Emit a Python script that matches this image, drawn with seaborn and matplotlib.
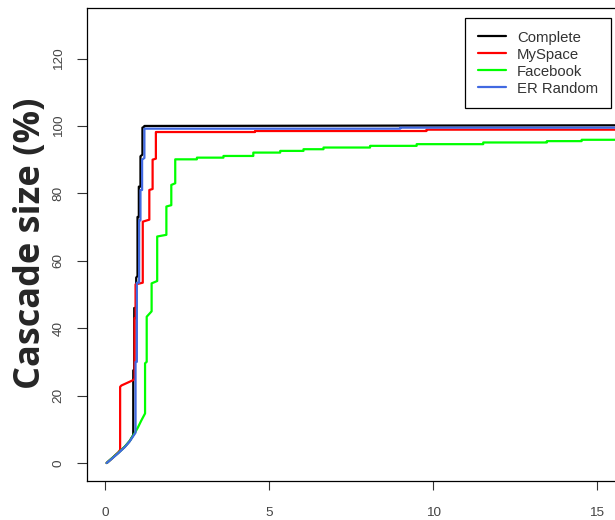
import matplotlib
matplotlib.use("Agg")
import matplotlib.pyplot as plt
import seaborn as sns
import pandas as pd

# ---- data ----
series_names = ["Complete", "MySpace", "Facebook", "ER Random"]
series_colors = ["#000000", "#FF0000", "#00FF00", "#4169E1"]

complete_x = [0.05, 0.2, 0.4, 0.6, 0.75, 0.86, 0.86, 0.89, 0.89, 0.95, 0.95, 0.99, 0.99, 1.03, 1.03,
              1.08, 1.08, 1.14, 1.14, 1.20, 1.20, 16]
complete_y = [0, 1.3, 3.0, 4.8, 6.5, 8.3, 27.5, 27.5, 46, 46, 55, 55.5, 73, 73, 82,
              82, 91, 91.5, 99.5, 99.8, 100, 100.2]

myspace_x = [0.05, 0.2, 0.4, 0.46, 0.46, 0.50, 0.86, 0.90, 0.90, 0.93, 0.93, 1.15, 1.15, 1.35, 1.35,
             1.45, 1.45, 1.55, 1.55, 4.57, 4.57, 9.8, 9.8, 16]
myspace_y = [0, 1.3, 3.1, 3.9, 22.6, 23.0, 24.6, 25.0, 43, 43, 53, 53.5, 71.6, 72.2, 81,
             81.3, 90, 90.3, 98.2, 98.2, 98.5, 98.5, 98.9, 98.9]

facebook_x = [0.05, 0.2, 0.4, 0.6, 0.75, 0.9, 1.0, 1.1, 1.22, 1.22, 1.27, 1.27, 1.42, 1.42, 1.59, 1.59,
              1.87, 1.87, 2.02, 2.02, 2.14, 2.14, 2.80, 2.80, 3.61, 3.61, 4.52, 4.52, 5.34, 5.34,
              6.05, 6.05, 6.66, 6.66, 8.08, 8.08, 9.50, 9.50, 11.53, 11.53, 13.47, 13.47, 14.53, 14.53, 16]
facebook_y = [0, 1.3, 3.0, 4.8, 6.5, 8.8, 10.5, 12.5, 14.7, 29.6, 30.0, 43.4, 45.0, 53.3, 54.0, 67.2,
              67.7, 76.1, 76.5, 82.5, 83.0, 90.1, 90.1, 90.6, 90.6, 91.1, 91.1, 92.1, 92.1, 92.6,
              92.6, 93.1, 93.1, 93.6, 93.6, 94.1, 94.1, 94.6, 94.6, 95.1, 95.1, 95.5, 95.5, 95.9, 95.9]

er_x = [0.05, 0.2, 0.4, 0.6, 0.75, 0.93, 0.93, 0.97, 0.97, 1.04, 1.04, 1.08, 1.08, 1.13, 1.13,
        1.20, 1.20, 9.0, 9.0, 16]
er_y = [0, 1.2, 2.9, 4.7, 6.4, 9.0, 30, 30, 53.5, 53.5, 72, 72, 81, 81, 90,
        90.5, 99.2, 99.2, 99.5, 99.5]

x_ticks = [0, 5, 10, 15]
y_ticks = [0, 20, 40, 60, 80, 100, 120]
y_label = "Cascade size (%)"

# ---- long table ----
frames = []
for name, xs, ys in zip(series_names,
                        [complete_x, myspace_x, facebook_x, er_x],
                        [complete_y, myspace_y, facebook_y, er_y]):
    frames.append(pd.DataFrame({"t": xs, "size": ys, "series": name, "order": range(len(xs))}))
df = pd.concat(frames, ignore_index=True)

sns.set_style("white")
plt.rcParams["font.family"] = ["Liberation Sans", "DejaVu Sans"]

W, H = 615, 520
fig = plt.figure(figsize=(W / 100, H / 100), dpi=100)
ax_left, ax_right, ax_top, ax_bottom = 87, 621, 8, 481
ax = fig.add_axes([ax_left / W, 1 - ax_bottom / H, (ax_right - ax_left) / W, (ax_bottom - ax_top) / H])

sns.lineplot(data=df, x="t", y="size", hue="series", hue_order=series_names,
             palette=series_colors, sort=False, estimator=None, linewidth=1.6,
             ax=ax, legend=False)

ax.set_xlim(-0.55, 15.73)
ax.set_ylim(-5.34, 135)
ax.set_xticks(x_ticks)
ax.set_xticklabels([str(v) for v in x_ticks])
ax.set_yticks(y_ticks)
ax.set_yticklabels([str(v) for v in y_ticks], rotation=90, va="center")
ax.set_xlabel("")
ax.set_ylabel("")

for s in ["left", "bottom", "top", "right"]:
    ax.spines[s].set_visible(True)
    ax.spines[s].set_color("black")
    ax.spines[s].set_linewidth(0.9)

ax.tick_params(axis="x", direction="out", length=6.5, width=0.8, color="#333333",
               labelsize=9.7, labelcolor="#444444", pad=12, bottom=True)
ax.tick_params(axis="y", direction="out", length=7, width=0.8, color="#333333",
               labelsize=9.7, labelcolor="#444444", pad=9, left=True)

# legend
from matplotlib.lines import Line2D
handles = [Line2D([0], [0], color=c, lw=1.6) for c in series_colors]
leg = fig.legend(handles, series_names, loc="upper right",
                 bbox_to_anchor=(611 / W, 1 - 18 / H), bbox_transform=fig.transFigure,
                 borderaxespad=0, frameon=True, fancybox=False, framealpha=1,
                 edgecolor="black", prop={"family": "Liberation Sans", "size": 10.7},
                 handlelength=1.9, handletextpad=0.75, labelspacing=0.2, borderpad=0.85)
leg.get_frame().set_linewidth(0.9)
for t in leg.get_texts():
    t.set_color("#333333")

fig.text(31 / W, 1 - 243 / H, y_label, rotation=90, ha="center", va="center",
         fontsize=26, fontweight="bold", family=["Open Sans", "DejaVu Sans"])

fig.savefig("out.png", dpi=100)
